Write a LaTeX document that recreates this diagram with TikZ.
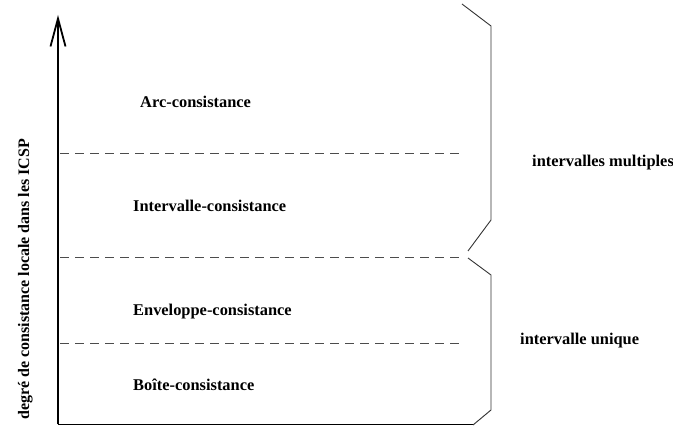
\documentclass[tikz,border=0pt]{standalone}
\usepackage{fontspec}
\setmainfont{Liberation Serif}
\usetikzlibrary{arrows.meta}
\begin{document}
\begin{tikzpicture}[x=1pt,y=-1pt,
  lbl/.style={font=\fontsize{16.4}{18}\selectfont\bfseries, inner sep=0pt, anchor=base west},
  axis/.style={line width=1.8pt, black},
  sep/.style={dash pattern=on 9pt off 6pt, line width=1pt, black!70},
  brace/.style={line width=0.9pt, black!80, line join=miter}]
\useasboundingbox (0,0) rectangle (673,427);
% axes
\coordinate (origin) at (58,424.5);
\coordinate (ytop) at (58,15);
\coordinate (xend) at (473,424.5);
\draw[axis, -{Straight Barb[length=28pt,width=15pt,line width=1.8pt]}] (origin) -- (ytop);
\draw[axis] (origin) -- (xend);
% separators
\coordinate (s1a) at (60,154); \coordinate (s1b) at (460,154);
\coordinate (s2a) at (60,258); \coordinate (s2b) at (460,258);
\coordinate (s3a) at (60,344); \coordinate (s3b) at (460,344);
\draw[sep] (s1a) -- (s1b);
\draw[sep] (s2a) -- (s2b);
\draw[sep] (s3a) -- (s3b);
% braces
\coordinate (b1a) at (462,4); \coordinate (b1b) at (491,26);
\coordinate (b1c) at (491,220); \coordinate (b1d) at (468,251);
\coordinate (b2a) at (468,258); \coordinate (b2b) at (491,275);
\coordinate (b2c) at (491,410); \coordinate (b2d) at (473,425);
\draw[brace] (b1a) -- (b1b) -- (b1c) -- (b1d);
\draw[brace] (b2a) -- (b2b) -- (b2c) -- (b2d);
% labels
\node[lbl] (arc) at (140,108) {Arc-consistance};
\node[lbl] (int) at (133,212) {Intervalle-consistance};
\node[lbl] (env) at (133,316) {Enveloppe-consistance};
\node[lbl] (boi) at (133,391) {Boîte-consistance};
\node[lbl] (mul) at (532,167) {intervalles multiples};
\node[lbl] (uni) at (520,345) {intervalle unique};
\node[lbl, rotate=90, font=\fontsize{16}{18}\selectfont\bfseries] (ylab) at (29,420) {degré de consistance locale dans les ICSP};
\end{tikzpicture}
\end{document}
